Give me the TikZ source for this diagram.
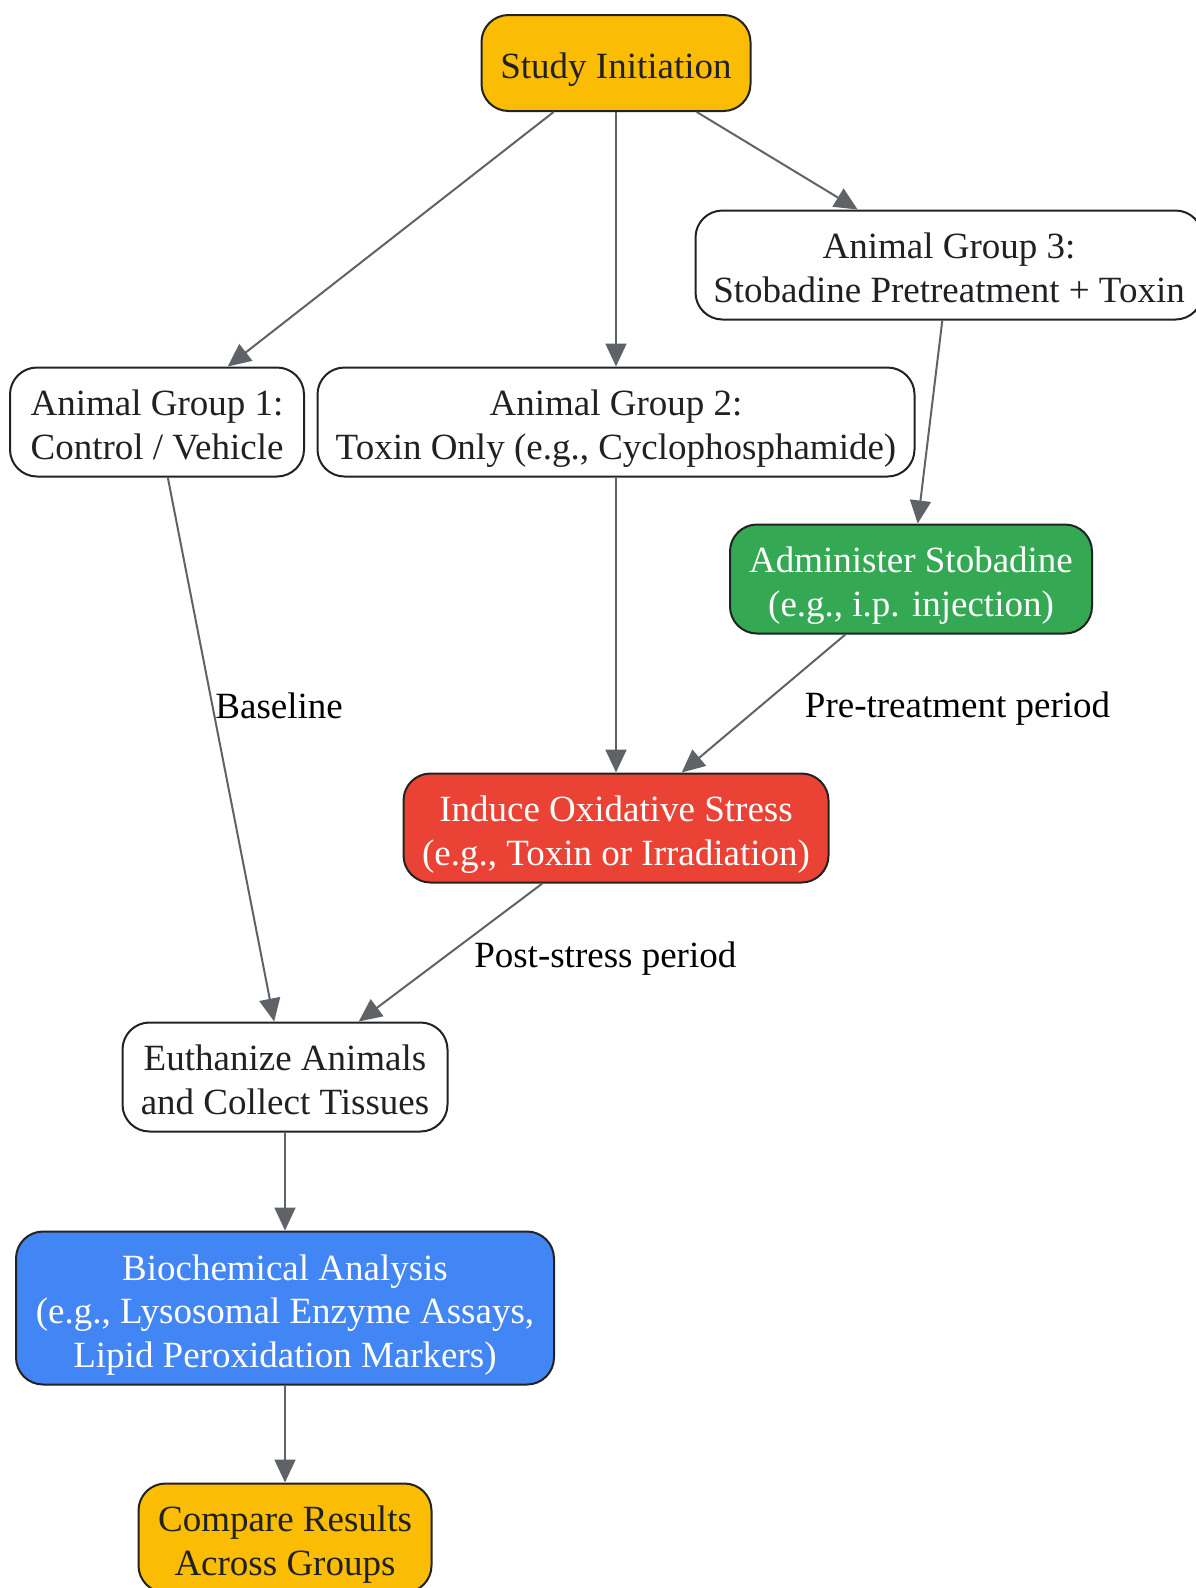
\documentclass[tikz,border=0pt]{standalone}
\usepackage{fontspec}
\setmainfont{Liberation Serif}
\usetikzlibrary{arrows.meta,positioning}
\definecolor{gyellow}{HTML}{FBBC04}
\definecolor{ggreen}{HTML}{34A853}
\definecolor{gred}{HTML}{EA4335}
\definecolor{gblue}{HTML}{4285F4}
\definecolor{linegray}{HTML}{5F6368}
\definecolor{rim}{HTML}{222222}
\definecolor{inkdark}{HTML}{202124}
\tikzstyle{arrow} = [line width=2pt,color=linegray,-{Triangle[length=23pt,width=21pt]}]

\begin{document}
\begin{tikzpicture}[x=1pt,y=-1pt,
    roundnode/.style={rectangle,rounded corners=27pt,draw=rim,line width=2pt,fill=white,text=inkdark,
        align=center,inner xsep=12pt,inner ysep=0pt,minimum height=109pt,font=\fontsize{37}{43.5}\selectfont,
        text height=83.5pt,text depth=9pt},
    oneline/.style={text height=40pt,minimum height=96pt},
    threeline/.style={text height=127pt,minimum height=153pt},
    steplabel/.style={font=\fontsize{37}{43.5}\selectfont,text=black,inner sep=0pt,anchor=west},]
        \useasboundingbox (0,0) rectangle (1195,1588);
        % \node [options] (var) at (x,y) {label};
        \node[roundnode,oneline,fill=gyellow,minimum width=269pt] (start) at (616,63) {Study Initiation};
        \node[roundnode,minimum width=294pt] (g1) at (157,422) {Animal Group 1:\\Control / Vehicle};
        \node[roundnode,minimum width=597pt] (g2) at (616,422) {Animal Group 2:\\Toxin Only (e.g., Cyclophosphamide)};
        \node[roundnode,minimum width=507pt] (g3) at (949,265) {Animal Group 3:\\Stobadine Pretreatment + Toxin};
        \node[roundnode,fill=ggreen,text=white,minimum width=362pt] (admin) at (911,579) {Administer Stobadine\\(e.g., i.p. injection)};
        \node[roundnode,fill=gred,text=white,minimum width=425pt] (stress) at (616,828) {Induce Oxidative Stress\\(e.g., Toxin or Irradiation)};
        \node[roundnode,minimum width=325pt] (euth) at (285,1077) {Euthanize Animals\\and Collect Tissues};
        \node[roundnode,threeline,fill=gblue,text=white,minimum width=538pt] (bio) at (285,1308) {Biochemical Analysis\\(e.g., Lysosomal Enzyme Assays,\\Lipid Peroxidation Markers)};
        \node[roundnode,fill=gyellow,minimum width=293pt] (cmp) at (285,1538) {Compare Results\\Across Groups};

        % start -> three groups
        \draw[arrow] (start) -- (g1); % start -> group 1
        \draw[arrow] (start) -- (g2); % start -> group 2
        \draw[arrow] (start) -- (g3); % start -> group 3

        % group 1 goes straight to euthanasia
        \draw[arrow] (g1) -- node[steplabel,pos=.42,xshift=2pt] {Baseline} (euth);

        % group 2 -> stress, group 3 -> stobadine -> stress
        \draw[arrow] (g2) -- (stress);
        \draw[arrow] (g3) -- (admin);
        \draw[arrow] (admin) -- node[steplabel,pos=.54,xshift=47pt] {Pre-treatment period} (stress);

        % stress -> euthanasia -> analysis -> compare
        \draw[arrow] (stress) -- node[steplabel,pos=.545,xshift=31pt] {Post-stress period} (euth);
        \draw[arrow] (euth) -- (bio);
        \draw[arrow] (bio) -- (cmp);
    \end{tikzpicture}
\end{document}
